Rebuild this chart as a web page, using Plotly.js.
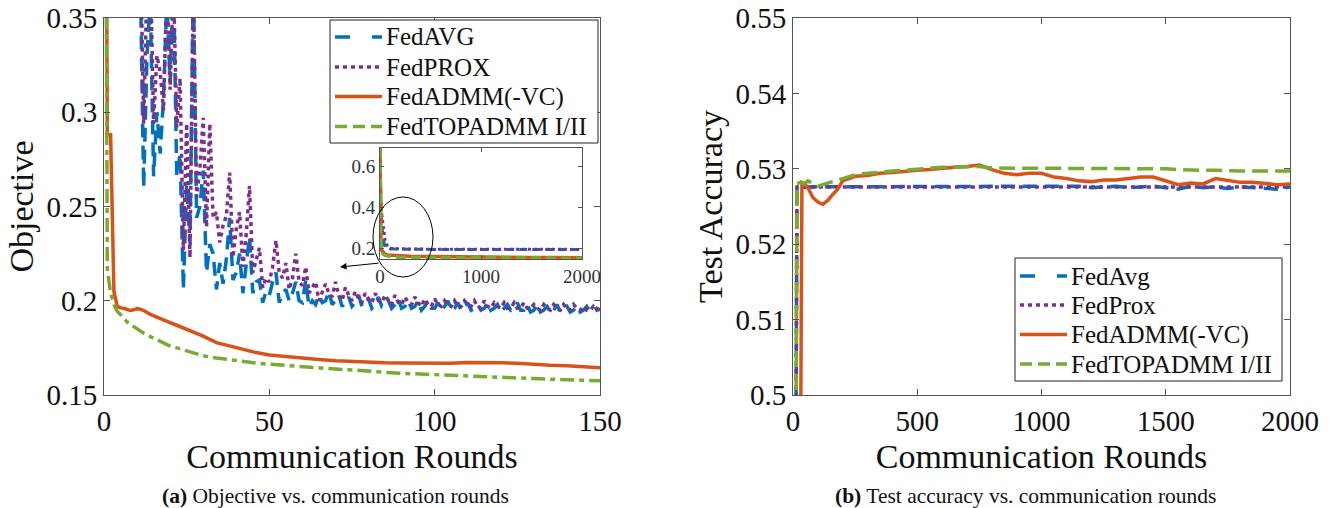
<!DOCTYPE html>
<html>
<head>
<meta charset="utf-8">
<script src="https://cdn.plot.ly/plotly-3.0.1.min.js"></script>
<style>html,body{margin:0;padding:0;background:#fff;}#chart{width:1329px;height:508px;}</style>
</head>
<body>
<div id="chart"></div>
<script>
// ---------- Data: (a) Objective vs. communication rounds (rounds 0..150) ----------
const objAvg = [0.69,0.62,0.56,0.52,0.49,0.46,0.44,0.42,0.40,0.39,0.38,0.37,0.26,0.33,0.36,0.266,0.30,0.278,0.308,0.36,
0.316,0.37,0.266,0.278,0.206,0.262,0.231,0.37,0.244,0.25,0.269,0.215,0.23,0.225,0.206,0.22,0.209,0.222,0.244,0.211,
0.215,0.225,0.204,0.22,0.234,0.204,0.21,0.211,0.199,0.205,0.203,0.21,0.215,0.199,0.204,0.206,0.2,0.204,0.21,0.2,
0.199,0.211,0.197,0.2,0.198,0.203,0.199,0.2,0.205,0.198,0.2,0.203,0.197,0.199,0.202,0.197,0.199,0.203,0.197,0.198,
0.201,0.196,0.198,0.202,0.197,0.198,0.2,0.196,0.198,0.201,0.196,0.197,0.2,0.196,0.197,0.2,0.195,0.197,0.2,0.196,
0.196,0.199,0.195,0.197,0.2,0.195,0.196,0.199,0.195,0.196,0.199,0.195,0.196,0.198,0.195,0.196,0.199,0.195,0.196,0.198,
0.194,0.196,0.198,0.195,0.196,0.199,0.195,0.195,0.198,0.194,0.195,0.198,0.194,0.195,0.197,0.194,0.195,0.198,0.194,0.195,
0.197,0.194,0.195,0.197,0.194,0.195,0.197,0.194,0.195,0.196,0.195];
const objProx = [0.69,0.64,0.59,0.55,0.52,0.49,0.47,0.45,0.43,0.41,0.40,0.39,0.294,0.37,0.38,0.294,0.33,0.321,0.301,0.37,
0.312,0.37,0.292,0.318,0.227,0.294,0.223,0.37,0.255,0.27,0.297,0.239,0.294,0.244,0.247,0.231,0.24,0.245,0.268,0.223,
0.238,0.247,0.218,0.235,0.261,0.215,0.222,0.228,0.207,0.212,0.21,0.218,0.232,0.215,0.212,0.22,0.206,0.212,0.225,0.21,
0.208,0.218,0.204,0.207,0.21,0.2,0.205,0.209,0.204,0.202,0.21,0.203,0.2,0.207,0.203,0.2,0.205,0.201,0.199,0.204,
0.201,0.199,0.204,0.2,0.199,0.203,0.2,0.198,0.203,0.199,0.198,0.202,0.199,0.198,0.202,0.199,0.197,0.201,0.198,0.197,
0.201,0.198,0.197,0.2,0.198,0.197,0.2,0.197,0.197,0.2,0.198,0.197,0.2,0.197,0.196,0.2,0.197,0.196,0.199,0.197,
0.196,0.199,0.196,0.196,0.199,0.196,0.196,0.199,0.196,0.196,0.198,0.196,0.195,0.198,0.196,0.195,0.198,0.196,0.195,0.198,
0.196,0.195,0.198,0.196,0.195,0.197,0.195,0.195,0.197,0.195,0.196];
const objSmoothRounds = [0,1,2,3,4,5,6,7,8,9,10,11,12,14,16,18,20,22,24,26,28,30,34,38,42,46,50,55,60,65,70,75,80,85,90,95,100,105,110,115,120,125,130,135,140,145,150];
const objADMM = [0.69,0.288,0.288,0.205,0.197,0.1962,0.196,0.1955,0.1948,0.1952,0.1958,0.1955,0.1948,0.1928,0.1912,0.1897,0.1884,0.187,0.1856,0.1843,0.183,0.1812,0.1778,0.176,0.1742,0.1725,0.1712,0.1703,0.1695,0.1688,0.1682,0.1677,0.1674,0.1671,0.167,0.1668,0.167,0.1668,0.1672,0.1673,0.1671,0.1668,0.1662,0.1658,0.1655,0.165,0.1645];
const objTOP = [0.69,0.217,0.204,0.198,0.1945,0.1925,0.1905,0.1888,0.1875,0.1862,0.185,0.1838,0.1828,0.181,0.1792,0.1775,0.176,0.175,0.174,0.1728,0.1717,0.1708,0.1696,0.1686,0.1677,0.167,0.1663,0.1656,0.165,0.1644,0.1638,0.1633,0.1625,0.162,0.1615,0.1611,0.1607,0.1603,0.16,0.1596,0.1593,0.159,0.1587,0.1584,0.1581,0.1578,0.1575];

// ---------- Inset data (rounds 0..2000) ----------
const insetRounds = [0,5,10,20,30,50,75,100,150,200,300,500,750,1000,1250,1500,1750,2000];
const insetAvg  = [0.69,0.46,0.39,0.31,0.25,0.205,0.198,0.197,0.196,0.196,0.196,0.195,0.195,0.195,0.194,0.194,0.194,0.194];
const insetProx = [0.69,0.49,0.41,0.36,0.31,0.24,0.21,0.2,0.198,0.197,0.197,0.196,0.196,0.196,0.195,0.195,0.195,0.195];
const insetADMM = [0.69,0.196,0.1955,0.1884,0.1812,0.1712,0.1677,0.167,0.1645,0.163,0.162,0.16,0.158,0.157,0.156,0.155,0.155,0.154];
const insetTOP  = [0.69,0.1925,0.185,0.176,0.1708,0.1663,0.1633,0.1607,0.1575,0.156,0.155,0.154,0.1535,0.153,0.153,0.1525,0.1525,0.152];

// ---------- Data: (b) Test accuracy vs. communication rounds ----------
const accRounds = [0,10,16,20,30,36,45,60,80,100,120,140,160,180,200,250,300,350,400,450,500,550,600,650,700,750,800,850,900,950,1000,1050,1100,1150,1200,1250,1300,1350,1400,1450,1500,1550,1600,1650,1700,1750,1800,1850,1900,1950,2000];
const accAvg  = [0.40,0.48,0.5276,0.5276,0.5276,0.5276,0.5276,0.5276,0.5276,0.5276,0.5276,0.5276,0.5276,0.5276,0.5276,0.5276,0.5276,0.5276,0.5276,0.5276,0.5276,0.5276,0.5276,0.5276,0.5276,0.5276,0.5276,0.5276,0.5276,0.5276,0.5276,0.5276,0.5276,0.5277,0.5275,0.5276,0.5277,0.5275,0.5276,0.5277,0.5275,0.5273,0.5277,0.5275,0.5276,0.5274,0.5276,0.5275,0.5274,0.5273,0.5276];
const accProx = [0.40,0.48,0.5276,0.5276,0.5276,0.5276,0.5276,0.5276,0.5276,0.5276,0.5276,0.5276,0.5276,0.5276,0.5276,0.5276,0.5276,0.5276,0.5276,0.5276,0.5276,0.5276,0.5276,0.5276,0.5276,0.5276,0.5276,0.5276,0.5276,0.5276,0.5276,0.5276,0.5276,0.5276,0.5276,0.5276,0.5276,0.5276,0.5276,0.5276,0.5276,0.5276,0.5276,0.5276,0.5276,0.5276,0.5276,0.5276,0.5276,0.5276,0.5276];
const accADMM = [0.40,0.42,0.44,0.46,0.49,0.5282,0.5281,0.5275,0.5262,0.5256,0.5253,0.5258,0.5266,0.5273,0.5284,0.5290,0.5291,0.5294,0.5295,0.5297,0.5298,0.5299,0.5301,0.5302,0.5303,0.5305,0.5299,0.5294,0.5292,0.5294,0.5294,0.5289,0.5287,0.5284,0.5283,0.5285,0.5285,0.5287,0.5289,0.5289,0.5284,0.5279,0.5281,0.5280,0.5287,0.5284,0.5282,0.5282,0.5281,0.5279,0.5280];
const accTOP  = [0.40,0.49,0.5281,0.5281,0.5282,0.5281,0.5280,0.5284,0.5280,0.5277,0.5279,0.5281,0.5283,0.5285,0.5288,0.5292,0.5294,0.5296,0.5297,0.5298,0.5300,0.5301,0.5302,0.5302,0.5303,0.5303,0.5301,0.5301,0.5301,0.5301,0.5301,0.5301,0.5301,0.5301,0.5301,0.5301,0.5301,0.5301,0.5301,0.5301,0.5300,0.5299,0.5298,0.5298,0.5298,0.5297,0.5297,0.5297,0.5297,0.5297,0.5297];

const objTicks = [0.15,0.2,0.25,0.3,0.35];
const objTickText = ['0.15','0.2','0.25','0.3','0.35'];
const accTicks = [0.5,0.51,0.52,0.53,0.54,0.55];
const accTickText = ['0.5','0.51','0.52','0.53','0.54','0.55'];
const legendA = ['FedAVG','FedPROX','FedADMM(-VC)','FedTOPADMM I/II'];
const legendB = ['FedAvg','FedProx','FedADMM(-VC)','FedTOPADMM I/II'];
const captionA = '<b>(a)</b> Objective vs. communication rounds';
const captionB = '<b>(b)</b> Test accuracy vs. communication rounds';

// ---------- Styling ----------
const W = 1329, H = 508;
const FONT = 'Liberation Serif, Times New Roman, serif';
const C = {blue:'#0072BD', purple:'#7E2F8E', orange:'#D95319', green:'#77AC30'};
const px = v => v / W, py = v => 1 - v / H;
const objRounds = objAvg.map((_, i) => i);

const styleA = [
  {color:C.blue, width:3.5, dash:'14px,8px'},
  {color:C.purple, width:3.5, dash:'4px,4px'},
  {color:C.orange, width:3.5},
  {color:C.green, width:3.5, dash:'14px,5px,5px,5px'}
];
const styleB = [
  {color:C.blue, width:3.5, dash:'14px,8px'},
  {color:C.purple, width:3.5, dash:'4px,4px'},
  {color:C.orange, width:3.5},
  {color:C.green, width:3.5, dash:'16px,7px'}
];
const legendDash = ['15px,22px', '4px,4px', 'solid', '12px,6px'];

const traces = [
  {x: objRounds, y: objAvg, name: legendA[0], xaxis:'x', yaxis:'y', mode:'lines', line:styleA[0]},
  {x: objRounds, y: objProx, name: legendA[1], xaxis:'x', yaxis:'y', mode:'lines', line:styleA[1]},
  {x: objSmoothRounds, y: objADMM, name: legendA[2], xaxis:'x', yaxis:'y', mode:'lines', line:styleA[2]},
  {x: objSmoothRounds, y: objTOP, name: legendA[3], xaxis:'x', yaxis:'y', mode:'lines', line:styleA[3]},

  {x: accRounds, y: accAvg, name: legendB[0], xaxis:'x2', yaxis:'y2', mode:'lines', line:styleB[0]},
  {x: accRounds, y: accProx, name: legendB[1], xaxis:'x2', yaxis:'y2', mode:'lines', line:styleB[1]},
  {x: accRounds, y: accADMM, name: legendB[2], xaxis:'x2', yaxis:'y2', mode:'lines', line:styleB[2]},
  {x: accRounds, y: accTOP, name: legendB[3], xaxis:'x2', yaxis:'y2', mode:'lines', line:styleB[3]},

  {x: insetRounds, y: insetAvg, name: legendA[0], xaxis:'x3', yaxis:'y3', mode:'lines', line:{color:C.blue, width:3, dash:'8px,5px'}},
  {x: insetRounds, y: insetProx, name: legendA[1], xaxis:'x3', yaxis:'y3', mode:'lines', line:{color:C.purple, width:3, dash:'3px,3px'}},
  {x: insetRounds, y: insetADMM, name: legendA[2], xaxis:'x3', yaxis:'y3', mode:'lines', line:{color:C.orange, width:3.5}},
  {x: insetRounds, y: insetTOP, name: legendA[3], xaxis:'x3', yaxis:'y3', mode:'lines', line:{color:C.green, width:3.5, dash:'10px,5px'}}
];

const axBase = {
  showline:true, linecolor:'#555', linewidth:1, mirror:'ticks', ticks:'inside', ticklen:6,
  tickcolor:'#555', showgrid:false, zeroline:false, tickfont:{family:FONT, size:29, color:'#111'}, fixedrange:true
};
const titleFont = {family:FONT, size:34, color:'#111'};

const shapes = [
  {type:'circle', xref:'paper', yref:'paper', x0:px(373), x1:px(433), y0:py(277), y1:py(197), line:{color:'#000', width:1}}
];
const annotations = [
  {xref:'paper', yref:'paper', x:px(340), y:py(267), ax:40, ay:-4, text:'', showarrow:true, arrowhead:2, arrowsize:1.3, arrowwidth:1, arrowcolor:'#000'},
  {xref:'paper', yref:'paper', x:px(335), y:py(496), xanchor:'center', yanchor:'middle', text:captionA, showarrow:false, font:{family:FONT, size:21.5, color:'#111'}},
  {xref:'paper', yref:'paper', x:px(1025), y:py(496), xanchor:'center', yanchor:'middle', text:captionB, showarrow:false, font:{family:FONT, size:21.5, color:'#111'}}
];
// MATLAB-style legend boxes placed in paper pixels
function addLegend(labels, styles, box, rowY, lineX0, lineX1, textX) {
  shapes.push({type:'rect', xref:'paper', yref:'paper', x0:px(box[0]), x1:px(box[1]), y0:py(box[3]), y1:py(box[2]),
    fillcolor:'#fff', line:{color:'#222', width:1}});
  labels.forEach((lab, i) => {
    const s = styles[i];
    shapes.push({type:'line', xref:'paper', yref:'paper', x0:px(lineX0), x1:px(lineX1), y0:py(rowY[i]), y1:py(rowY[i]),
      line:{color:s.color, width:s.width, dash:legendDash[i]}});
    annotations.push({xref:'paper', yref:'paper', x:px(textX), y:py(rowY[i]), xanchor:'left', yanchor:'middle',
      text:lab, showarrow:false, font:{family:FONT, size:25, color:'#111'}});
  });
}
addLegend(legendA, styleA, [330, 598, 20, 143], [37, 67, 96.5, 126.5], 335, 382, 384);
addLegend(legendB, styleB, [1015, 1282, 258, 381], [276, 305, 334.5, 364], 1020, 1067, 1069);

const layout = {
  width:W, height:H, margin:{l:0,r:0,t:0,b:0}, paper_bgcolor:'#fff', plot_bgcolor:'#fff',
  font:{family:FONT, color:'#111'}, showlegend:false,
  xaxis: Object.assign({}, axBase, {domain:[px(104), px(600)], anchor:'y', range:[0,150], tickvals:[0,50,100,150],
    title:{text:'Communication Rounds', font:titleFont, standoff:8}}),
  yaxis: Object.assign({}, axBase, {domain:[py(395), py(18)], anchor:'x', range:[0.15,0.35], tickvals:objTicks, ticktext:objTickText,
    title:{text:'Objective', font:titleFont, standoff:2}}),
  xaxis2: Object.assign({}, axBase, {domain:[px(793), px(1290)], anchor:'y2', range:[0,2000], tickvals:[0,500,1000,1500,2000],
    title:{text:'Communication Rounds', font:titleFont, standoff:8}}),
  yaxis2: Object.assign({}, axBase, {domain:[py(395), py(18)], anchor:'x2', range:[0.5,0.55], tickvals:accTicks, ticktext:accTickText,
    title:{text:'Test Accuracy', font:titleFont, standoff:2}}),
  xaxis3: Object.assign({}, axBase, {domain:[px(380), px(582)], anchor:'y3', range:[0,2000], tickvals:[0,1000,2000], ticklen:4,
    tickfont:{family:FONT, size:19, color:'#333'}}),
  yaxis3: Object.assign({}, axBase, {domain:[py(259), py(148)], anchor:'x3', range:[0.148,0.691], tickvals:[0.2,0.4,0.6], ticktext:['0.2','0.4','0.6'], ticklen:4,
    tickfont:{family:FONT, size:19, color:'#333'}}),
  shapes: shapes,
  annotations: annotations
};

Plotly.newPlot('chart', traces, layout, {displayModeBar:false, staticPlot:true});
</script>
</body>
</html>
